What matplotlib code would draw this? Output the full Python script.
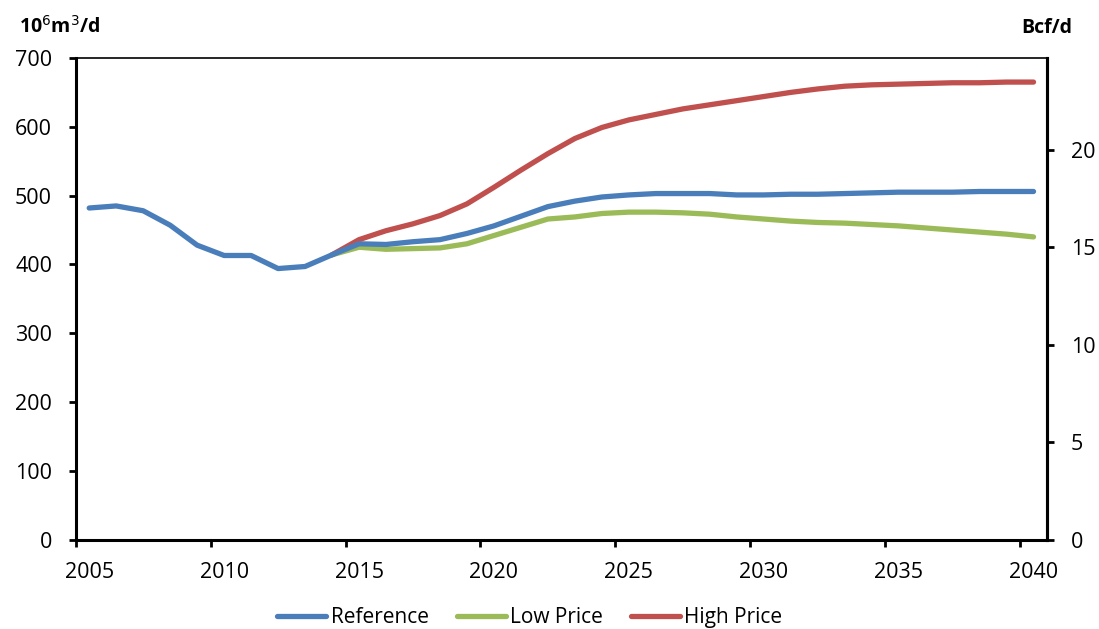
import matplotlib
matplotlib.use("Agg")
import matplotlib.pyplot as plt
import numpy as np

# Gas demand outlook, 10^6 m3/d, with Bcf/d on the secondary axis
years_hist = list(range(2005, 2015))
reference_hist = [482, 485, 478, 457, 428, 413, 413, 394, 397, 414]

years_proj = list(range(2014, 2041))
reference = [414, 430, 429, 433, 436, 445, 456, 470, 484, 492, 498, 501, 503,
             503, 503, 501, 501, 502, 502, 503, 504, 505, 505, 505, 506, 506, 506]
low_price = [414, 425, 422, 423, 424, 430, 442, 454, 466, 469, 474, 476, 476,
             475, 473, 469, 466, 463, 461, 460, 458, 456, 453, 450, 447, 444, 440]
high_price = [414, 436, 449, 459, 471, 488, 512, 537, 561, 583, 599, 610, 618,
              626, 632, 638, 644, 650, 655, 659, 661, 662, 663, 664, 664, 665, 665]

series_names = ["Reference", "Low Price", "High Price"]
colors = ["#4A7EBB", "#9BBB59", "#C0504D"]
M3_PER_BCF = 28.317

plt.rcParams["font.family"] = ["Open Sans", "DejaVu Sans"]
fig = plt.figure(figsize=(10.99, 6.29), dpi=100)
ax = fig.add_axes([0.0689, 0.142, 0.8838, 0.7658])

lw = 3.8
# years are categories: each point sits at the middle of its year slot
xh = np.array(years_hist) + 0.5
xp = np.array(years_proj) + 0.5
ax.plot(xp, low_price, color=colors[1], lw=lw, solid_capstyle="round", zorder=3)
ax.plot(xp, high_price, color=colors[2], lw=lw, solid_capstyle="round", zorder=3)
ax.plot(np.concatenate([xh, xp[1:]]), reference_hist + reference[1:],
        color=colors[0], lw=lw, solid_capstyle="round", solid_joinstyle="round", zorder=4)

ax.set_xlim(2005, 2041)
ax.set_ylim(0, 700)
ax.set_yticks(range(0, 701, 100))
ax.set_xticks(range(2005, 2041, 5))
ax.set_xticklabels([])
ax.set_xticks(np.arange(2005, 2041, 5) + 0.5, minor=True)
ax.set_xticklabels([str(y) for y in range(2005, 2041, 5)], minor=True)
ax.tick_params(axis="x", which="major", direction="out", length=5, width=2)
ax.tick_params(axis="x", which="minor", length=0, pad=16, labelsize=15.5)
ax.tick_params(axis="y", direction="out", length=5, width=2, labelsize=15.5, pad=12)

for side in ["left", "bottom"]:
    ax.spines[side].set_linewidth(2.2)
ax.spines["top"].set_linewidth(1.2)
ax.spines["right"].set_linewidth(2.2)

ax2 = ax.twinx()
ax2.set_ylim(0, 700 / M3_PER_BCF)
ax2.set_yticks([0, 5, 10, 15, 20])
ax2.tick_params(axis="y", direction="out", length=5, width=2, labelsize=15.5, pad=12)
ax2.spines["right"].set_linewidth(2.2)
ax2.spines["top"].set_visible(False)
ax2.spines["left"].set_visible(False)
ax2.spines["bottom"].set_visible(False)

fig.text(0.017, 0.958, r"10$^{6}$m$^{3}$/d", fontsize=14, fontweight="bold",
         ha="left", va="center")
fig.text(0.976, 0.955, "Bcf/d", fontsize=14, fontweight="bold",
         ha="right", va="center")

handles = [plt.Line2D([], [], color=c, lw=lw, solid_capstyle="round") for c in colors]
fig.legend(handles, series_names, loc="center", bbox_to_anchor=(0.482, 0.018),
           ncol=3, frameon=False, fontsize=15, handlelength=2.35,
           handletextpad=0.2, columnspacing=1.35)

fig.savefig("out.png", dpi=100)
